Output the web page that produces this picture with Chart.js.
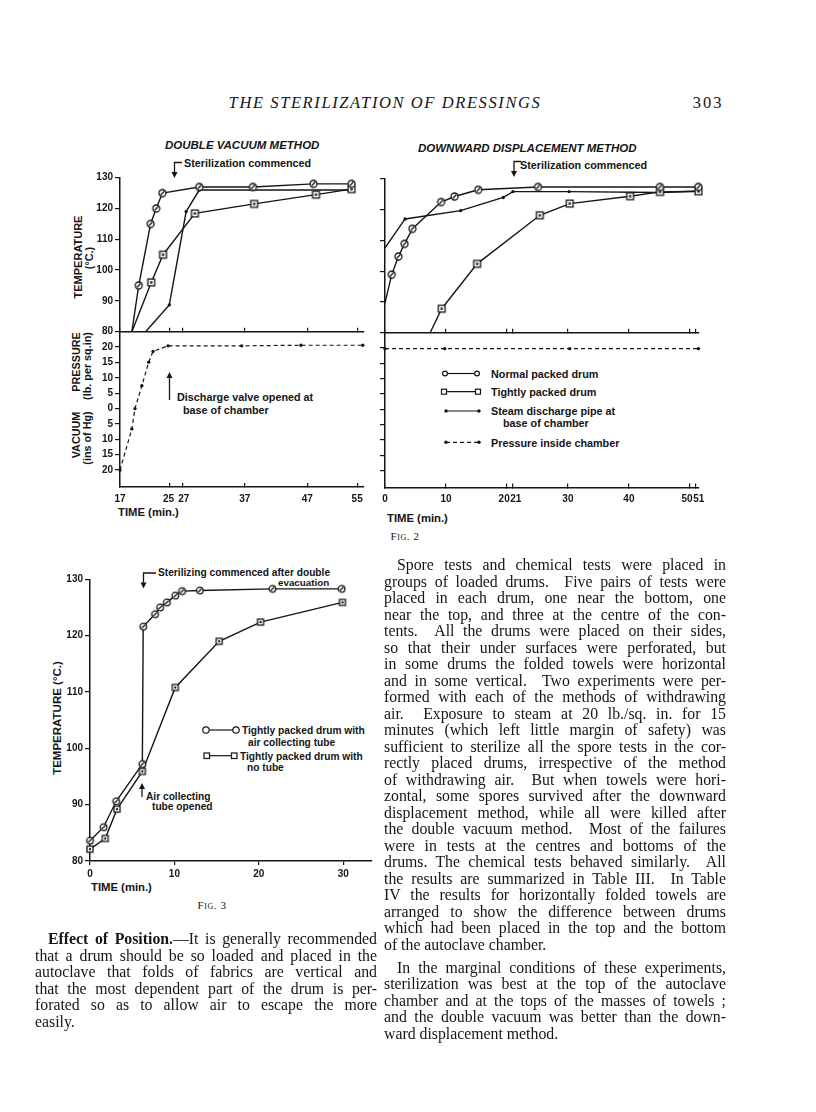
<!DOCTYPE html>
<html>
<head>
<meta charset="utf-8">
<title>The sterilization of dressings</title>
<script src="https://cdn.jsdelivr.net/npm/chart.js@4.4.1/dist/chart.umd.min.js"></script>
<style>
  html, body { margin: 0; padding: 0; background: #fff; }
  #page { position: relative; width: 816px; height: 1112px; overflow: hidden; color: #151515; background: #fff; }
  #page canvas, #page svg { position: absolute; left: 0; top: 0; }
  .lab { position: absolute; white-space: nowrap; line-height: 1; transform: translateY(-50%);
         font: bold 10.8px "Liberation Sans", Arial, sans-serif; }
  .rot { position: absolute; white-space: nowrap; line-height: 1; text-align: center;
         transform: translate(-50%, -50%) rotate(-90deg); font: bold 10.8px "Liberation Sans", Arial, sans-serif; }
  .title { font-style: italic; font-size: 11.5px; }
  .small { font-size: 10.2px; }
  .time { font-size: 11.3px; }
  .cen { position: absolute; white-space: nowrap; line-height: 1; transform: translate(-50%, -50%);
         font-family: "Liberation Serif", "Times New Roman", serif; }
  .head { font-size: 16.5px; font-style: italic; letter-spacing: 1.6px; }
  .folio { font-size: 16.5px; letter-spacing: 2px; }
  .fig { font-size: 11px; font-variant: small-caps; letter-spacing: 0.6px; }
  .body { position: absolute; font: 15.8px/16.5px "Liberation Serif", "Times New Roman", serif; }
  .body div { text-align: justify; text-align-last: justify; }
  .body div.end { text-align-last: left; }
  .body div.ind { text-indent: 13px; }
</style>
</head>
<body>
<div id="page">
  <!-- running head -->
  <div class="cen head" style="left:385px;top:103px">THE STERILIZATION OF DRESSINGS</div>
  <div class="cen folio" style="left:708px;top:103px">303</div>

  <!-- Fig. 2 texts -->
  <div class="lab title" style="left:165px;top:145px">DOUBLE VACUUM METHOD</div>
  <div class="lab title" style="left:418px;top:148px">DOWNWARD DISPLACEMENT METHOD</div>
  <div class="lab" style="left:184px;top:163px">Sterilization commenced</div>
  <div class="lab" style="left:520px;top:164.5px">Sterilization commenced</div>

  <div class="rot" style="left:77.5px;top:257px;font-size:11px">TEMPERATURE</div>
  <div class="rot" style="left:88.5px;top:258px">(°C.)</div>
  <div class="rot" style="left:76px;top:362px">PRESSURE</div>
  <div class="rot" style="left:86.5px;top:366px">(lb. per sq.in)</div>
  <div class="rot" style="left:76px;top:435px">VACUUM</div>
  <div class="rot" style="left:86.5px;top:438px">(ins of Hg)</div>

  <div class="lab" style="left:177px;top:397px">Discharge valve opened at</div>
  <div class="lab" style="left:183px;top:409.5px">base of chamber</div>

  <div class="lab" style="left:491px;top:373.5px">Normal packed drum</div>
  <div class="lab" style="left:491px;top:391.7px">Tightly packed drum</div>
  <div class="lab" style="left:491px;top:410.5px">Steam discharge pipe at</div>
  <div class="lab" style="left:503px;top:423px">base of chamber</div>
  <div class="lab" style="left:491px;top:442.5px">Pressure inside chamber</div>

  <div class="lab time" style="left:118px;top:512px">TIME (min.)</div>
  <div class="lab time" style="left:387px;top:518px">TIME (min.)</div>
  <div class="cen fig" style="left:405px;top:536px">Fig. 2</div>

  <!-- Fig. 3 texts -->
  <div class="lab small" style="left:158px;top:572px">Sterilizing commenced after double</div>
  <div class="lab small" style="left:278px;top:581.5px;font-size:9.8px">evacuation</div>
  <div class="rot" style="left:57px;top:718px;font-size:11.5px">TEMPERATURE (°C.)</div>
  <div class="lab small" style="left:242px;top:730px">Tightly packed drum with</div>
  <div class="lab small" style="left:248px;top:741.7px">air collecting tube</div>
  <div class="lab small" style="left:240px;top:755.7px">Tightly packed drum with</div>
  <div class="lab small" style="left:247px;top:767.3px">no tube</div>
  <div class="lab small" style="left:146px;top:796px">Air collecting</div>
  <div class="lab small" style="left:152px;top:805.7px">tube opened</div>
  <div class="lab time" style="left:91px;top:887px">TIME (min.)</div>
  <div class="cen fig" style="left:212px;top:904.5px">Fig. 3</div>

  <!-- arrows and legend keys -->
  <svg width="816" height="1112" viewBox="0 0 816 1112">
    <g fill="none" stroke="#151515" stroke-width="1.3">
      <path d="M182 162.5H174.5V173"/>
      <path d="M521 161.5H514V172"/>
      <path d="M169.5 400V377"/>
      <path d="M156 573H143.5V583"/>
      <path d="M142 797V788"/>
    </g>
    <g fill="#151515">
      <path d="M171.5 172L177.5 172L174.5 178Z"/>
      <path d="M511 171L517 171L514 177Z"/>
      <path d="M166.5 378L172.5 378L169.5 372Z"/>
      <path d="M140.5 582.5L146.5 582.5L143.5 588.5Z"/>
      <path d="M139 789L145 789L142 783Z"/>
    </g>
    <g stroke="#151515" stroke-width="1.2" fill="#fff">
      <line x1="445" y1="373.5" x2="477" y2="373.5"/>
      <circle cx="445" cy="373.5" r="2.4"/><circle cx="477" cy="373.5" r="2.4"/>
      <line x1="444" y1="391.7" x2="478" y2="391.7"/>
      <rect x="441.5" y="389.2" width="5" height="5"/><rect x="475.5" y="389.2" width="5" height="5"/>
      <line x1="446" y1="411" x2="479" y2="411"/>
      <line x1="446" y1="442.3" x2="479" y2="442.3" stroke-dasharray="4 3"/>
      <line x1="206" y1="730" x2="236" y2="730"/>
      <circle cx="206" cy="730" r="3.2"/><circle cx="236" cy="730" r="3.2"/>
      <line x1="207" y1="755.7" x2="234" y2="755.7"/>
      <rect x="204" y="753" width="5.5" height="5.5"/><rect x="231.5" y="753" width="5.5" height="5.5"/>
    </g>
    <g fill="#151515">
      <circle cx="446" cy="411" r="1.7"/><circle cx="479" cy="411" r="1.7"/>
      <circle cx="446" cy="442.3" r="1.7"/><circle cx="479" cy="442.3" r="1.7"/>
    </g>
  </svg>

  <!-- text columns -->
  <div class="body" style="left:384px;top:557px;width:342px">
    <div class="ind">Spore tests and chemical tests were placed in</div>
    <div>groups of loaded drums.&nbsp; Five pairs of tests were</div>
    <div>placed in each drum, one near the bottom, one</div>
    <div>near the top, and three at the centre of the con-</div>
    <div>tents.&nbsp; All the drums were placed on their sides,</div>
    <div>so that their under surfaces were perforated, but</div>
    <div>in some drums the folded towels were horizontal</div>
    <div>and in some vertical.&nbsp; Two experiments were per-</div>
    <div>formed with each of the methods of withdrawing</div>
    <div>air.&nbsp; Exposure to steam at 20 lb./sq. in. for 15</div>
    <div>minutes (which left little margin of safety) was</div>
    <div>sufficient to sterilize all the spore tests in the cor-</div>
    <div>rectly placed drums, irrespective of the method</div>
    <div>of withdrawing air.&nbsp; But when towels were hori-</div>
    <div>zontal, some spores survived after the downward</div>
    <div>displacement method, while all were killed after</div>
    <div>the double vacuum method.&nbsp; Most of the failures</div>
    <div>were in tests at the centres and bottoms of the</div>
    <div>drums. The chemical tests behaved similarly.&nbsp; All</div>
    <div>the results are summarized in Table III.&nbsp; In Table</div>
    <div>IV the results for horizontally folded towels are</div>
    <div>arranged to show the difference between drums</div>
    <div>which had been placed in the top and the bottom</div>
    <div class="end">of the autoclave chamber.</div>
  </div>
  <div class="body" style="left:384px;top:959.5px;width:342px">
    <div class="ind">In the marginal conditions of these experiments,</div>
    <div>sterilization was best at the top of the autoclave</div>
    <div>chamber and at the tops of the masses of towels ;</div>
    <div>and the double vacuum was better than the down-</div>
    <div class="end">ward displacement method.</div>
  </div>
  <div class="body" style="left:35px;top:931px;width:342px">
    <div class="ind"><b>Effect of Position.</b>—It is generally recommended</div>
    <div>that a drum should be so loaded and placed in the</div>
    <div>autoclave that folds of fabrics are vertical and</div>
    <div>that the most dependent part of the drum is per-</div>
    <div>forated so as to allow air to escape the more</div>
    <div class="end">easily.</div>
  </div>
</div>

<script>
// Fig. 2 - double vacuum method (time in min, temperature in deg C)
const dvNormalTime = [18.9, 20.0, 21.9, 22.8, 23.8, 29.7, 38.3, 48.0, 54.1]
const dvNormalTemp = [80, 95, 115, 120, 125, 127, 127, 128, 128]
const dvTightTime = [18.9, 22.0, 23.9, 29.0, 38.5, 48.4, 54.1]
const dvTightTemp = [80, 96, 105, 118.4, 121.5, 124.5, 126.3]
const dvSteamTime = [21.1, 24.9, 27.6, 29.7, 54.1]
const dvSteamTemp = [80, 88.7, 119, 126, 126]
// pressure: positive = lb. per sq. in., negative = ins of Hg vacuum
const dvPressTime = [17, 18.9, 19.4, 20.5, 21.6, 22.3, 24.7, 36.5, 46, 55.9]
const dvPress = [-20, -6.6, 0, 7.4, 15.1, 18.6, 20.4, 20.4, 20.6, 20.6]

// Fig. 2 - downward displacement method
const ddNormalTime = [0, 1.1, 2.2, 3.2, 4.5, 9.2, 11.4, 15.3, 25.1, 45.1, 51.4]
const ddNormalTemp = [89.7, 98.9, 104.8, 108.9, 113.8, 122.5, 124.3, 126.5, 127.4, 127.4, 127.4]
const ddTightTime = [7.4, 9.3, 15.1, 25.4, 30.3, 40.2, 45.1, 51.4]
const ddTightTemp = [80, 87.8, 102.4, 118.2, 122, 124.4, 125.8, 126]
const ddSteamTime = [0, 3.3, 12.4, 19.4, 21, 30.2, 45.1, 51.4]
const ddSteamTemp = [107.6, 117, 119.7, 124, 125.9, 125.9, 125.6, 126]
const ddPressTime = [0, 9.8, 30.3, 51.4]
const ddPress = [19.8, 19.8, 19.8, 19.8]

// Fig. 3
const f3TubeTime = [0, 1.6, 3.1, 6.2, 6.3, 7.7, 8.3, 9.1, 10.1, 10.9, 13.0, 21.6, 29.8]
const f3TubeTemp = [83.6, 86, 90.6, 97.2, 121.6, 123.8, 125, 125.9, 127.1, 127.9, 128, 128.3, 128.3]
const f3NoTubeTime = [0, 1.8, 3.2, 6.2, 10.1, 15.3, 20.2, 29.9]
const f3NoTubeTemp = [82.1, 84, 89.2, 95.9, 110.8, 119, 122.4, 125.9]

// tick labels
const dvTicksX = [17, 25, 27, 37, 47, 55]
const ddTicksX = [0, 10, 20, 21, 30, 40, 50, 51]
const f3TicksX = [0, 10, 20, 30]
const tempTicks = [80, 90, 100, 110, 120, 130]
const pressTicks = [20, 15, 10, 5, 0, -5, -10, -15, -20]

const PAGE_W = 816
const PAGE_H = 1112
const INK = '#151515'
const Y_W = 40
const tickFont = { family: '"Liberation Sans", Arial, sans-serif', size: 10, weight: 'bold' }

function zip(xs, ys) {
  return xs.map((x, i) => ({ x: x, y: ys[i] }))
}

// little marker images like the scan: ringed circle with a stroke, boxed square
function circleMark(r) {
  const c = document.createElement('canvas')
  const s = Math.ceil(r * 2 + 4)
  c.width = c.height = s
  const g = c.getContext('2d')
  g.strokeStyle = INK
  g.fillStyle = '#fff'
  g.lineWidth = 1.3
  g.beginPath()
  g.arc(s / 2, s / 2, r, 0, Math.PI * 2)
  g.fill()
  g.stroke()
  g.beginPath()
  g.moveTo(s / 2 - r * 0.55, s / 2 + r * 0.55)
  g.lineTo(s / 2 + r * 0.55, s / 2 - r * 0.55)
  g.stroke()
  return c
}

function squareMark(r) {
  const c = document.createElement('canvas')
  const s = Math.ceil(r * 2 + 4)
  c.width = c.height = s
  const g = c.getContext('2d')
  g.strokeStyle = INK
  g.fillStyle = '#fff'
  g.lineWidth = 1.3
  g.fillRect(s / 2 - r, s / 2 - r, r * 2, r * 2)
  g.strokeRect(s / 2 - r, s / 2 - r, r * 2, r * 2)
  g.fillStyle = INK
  g.fillRect(s / 2 - r * 0.35, s / 2 - r * 0.35, r * 0.7, r * 0.7)
  return c
}

const ring2 = circleMark(3.5)
const box2 = squareMark(3.4)
const ring3 = circleMark(3.3)
const box3 = squareMark(3)

function series(xs, ys, mark, bareFirst) {
  return {
    data: zip(xs, ys),
    borderColor: INK,
    borderWidth: 1.4,
    tension: 0,
    fill: false,
    clip: false,
    pointStyle: mark,
    pointRadius: (c) => (bareFirst && c.dataIndex === 0 ? 0 : 4),
  }
}

function dotted(xs, ys, dashed, bareFirst) {
  return {
    data: zip(xs, ys),
    borderColor: INK,
    borderWidth: dashed ? 1.2 : 1.4,
    borderDash: dashed ? [4, 3] : [],
    tension: 0,
    fill: false,
    clip: false,
    pointStyle: 'circle',
    pointBackgroundColor: INK,
    pointBorderWidth: 0,
    pointRadius: (c) => (bareFirst && c.dataIndex === 0 ? 0 : 1.7),
  }
}

function xAxis(min, max, ticks, h, inward, fmt) {
  return {
    type: 'linear',
    min: min,
    max: max,
    afterBuildTicks: (s) => {
      s.ticks = ticks.map((v) => ({ value: v }))
    },
    afterFit: (s) => {
      s.height = h
      s.paddingLeft = 0
      s.paddingRight = 0
    },
    border: { color: INK, width: 1.5 },
    grid: { drawOnChartArea: false, color: INK, lineWidth: 1.2, tickLength: inward ? -4 : 4 },
    ticks: {
      display: h > 0,
      autoSkip: false,
      maxRotation: 0,
      minRotation: 0,
      padding: inward ? 10 : 3,
      color: INK,
      font: tickFont,
      callback: fmt || ((v) => String(v)),
    },
  }
}

function yAxis(min, max, ticks, labelled, fmt) {
  return {
    type: 'linear',
    min: min,
    max: max,
    afterBuildTicks: (s) => {
      s.ticks = ticks.map((v) => ({ value: v }))
    },
    afterFit: (s) => {
      s.width = Y_W
      s.paddingTop = 0
      s.paddingBottom = 0
    },
    border: { color: INK, width: 1.5 },
    grid: { drawOnChartArea: false, color: INK, lineWidth: 1.2, tickLength: 5 },
    ticks: { display: labelled, padding: 2, color: INK, font: tickFont, callback: fmt || ((v) => String(v)) },
  }
}

// every chart gets a page-sized canvas; padding pins its plot area onto the scan
function panel(area, xH, datasets, x, y) {
  const canvas = document.createElement('canvas')
  canvas.width = PAGE_W
  canvas.height = PAGE_H
  document.getElementById('page').insertBefore(canvas, document.querySelector('#page svg'))
  return new Chart(canvas, {
    type: 'line',
    data: { datasets: datasets },
    options: {
      responsive: false,
      animation: false,
      devicePixelRatio: 1,
      events: [],
      layout: {
        padding: {
          left: area.left - Y_W,
          top: area.top,
          right: PAGE_W - area.right,
          bottom: PAGE_H - area.bottom - xH,
        },
      },
      plugins: { legend: { display: false }, tooltip: { enabled: false } },
      scales: { x: x, y: y },
    },
  })
}

const absLabel = (v) => String(Math.abs(v))
// crowded pairs are nudged apart the way the scan prints them
const dvLabel = (v) => {
  if (v === 25) return v + ' '
  if (v === 27) return ' ' + v
  return String(v)
}
const ddLabel = (v) => {
  if (v === 20 || v === 50) return v + '  '
  if (v === 21 || v === 51) return '  ' + v
  return String(v)
}

// Fig. 2 left: double vacuum
panel({ left: 120, top: 177.7, right: 364, bottom: 331.7 }, 0,
  [
    series(dvNormalTime, dvNormalTemp, ring2, true),
    series(dvTightTime, dvTightTemp, box2, true),
    dotted(dvSteamTime, dvSteamTemp, false, true),
  ],
  xAxis(17, 56.1, dvTicksX, 0, true),
  yAxis(80, 130, tempTicks, true))

panel({ left: 120, top: 331.7, right: 364, bottom: 487 }, 22,
  [dotted(dvPressTime, dvPress, true, false)],
  xAxis(17, 56.1, dvTicksX, 22, true, dvLabel),
  yAxis(-25.5, 25, pressTicks, true, absLabel))

// Fig. 2 right: downward displacement
panel({ left: 385, top: 179, right: 699, bottom: 332.7 }, 0,
  [
    series(ddNormalTime, ddNormalTemp, ring2, true),
    series(ddTightTime, ddTightTemp, box2, true),
    dotted(ddSteamTime, ddSteamTemp, false, true),
  ],
  xAxis(0, 51.5, ddTicksX, 0, true),
  yAxis(80, 130, tempTicks, false))

panel({ left: 385, top: 332.7, right: 699, bottom: 487.5 }, 22,
  [dotted(ddPressTime, ddPress, true, false)],
  xAxis(0, 51.5, ddTicksX, 22, true, ddLabel),
  yAxis(-25.5, 25, pressTicks, false, absLabel))

// Fig. 3
panel({ left: 90, top: 579.3, right: 372, bottom: 861 }, 22,
  [
    series(f3TubeTime, f3TubeTemp, ring3, false),
    series(f3NoTubeTime, f3NoTubeTemp, box3, false),
  ],
  xAxis(0, 33.4, f3TicksX, 22, false),
  yAxis(80, 130, tempTicks, true))
</script>
</body>
</html>
